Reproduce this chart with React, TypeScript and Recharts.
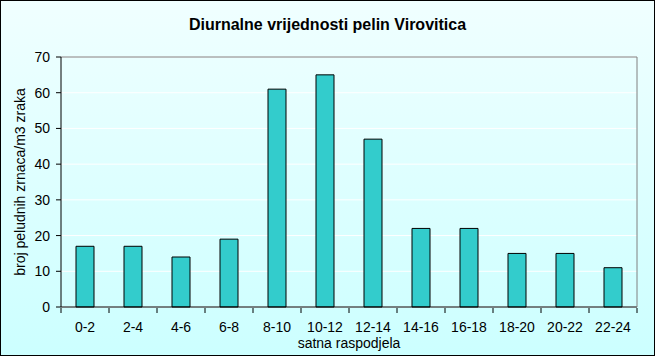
import {
  BarChart,
  Bar,
  XAxis,
  YAxis,
  CartesianGrid,
  ReferenceLine,
  Label,
} from 'recharts'

const categories = ['0-2', '2-4', '4-6', '6-8', '8-10', '10-12', '12-14', '14-16', '16-18', '18-20', '20-22', '22-24']
const pollen = [17, 17, 14, 19, 61, 65, 47, 22, 22, 15, 15, 11]
const yTicks = [0, 10, 20, 30, 40, 50, 60, 70]

const data = categories.map((c, i) => ({ interval: c, value: pollen[i] }))

const FONT = '"Liberation Sans", Arial, sans-serif'

// category labels plus tick marks on the band edges (like Excel)
const EdgeTick = (props: any) => {
  const { x, y, payload, index, visibleTicksCount } = props
  const half = payload.offset || 0
  const axisY = y - 7
  return (
    <g>
      <line x1={x - half} y1={axisY} x2={x - half} y2={axisY + 5} stroke="#000" />
      {index === visibleTicksCount - 1 && (
        <line x1={x + half} y1={axisY} x2={x + half} y2={axisY + 5} stroke="#000" />
      )}
      <text x={x} y={y + 17} textAnchor="middle" fontFamily={FONT} fontSize={14} fill="#000">
        {payload.value}
      </text>
    </g>
  )
}

export default function App() {
  return (
    <div
      style={{
        position: 'absolute',
        left: 0,
        top: 0,
        width: 655,
        height: 356,
        boxSizing: 'border-box',
        border: '1px solid #000',
        background: 'linear-gradient(#F0FFFF, #CCFFFF)',
        fontFamily: FONT,
      }}
    >
      <div
        style={{
          position: 'absolute',
          left: 0,
          top: 15,
          width: '100%',
          textAlign: 'center',
          fontSize: 16,
          fontWeight: 'bold',
          color: '#000',
        }}
      >
        Diurnalne vrijednosti pelin Virovitica
      </div>
      <BarChart
        width={656}
        height={357}
        data={data}
        margin={{ top: 57, right: 0, left: 0, bottom: 0 }}
        style={{ position: 'absolute', left: -1, top: -1 }}
      >
        <CartesianGrid horizontal vertical={false} stroke="#FFFFFF" />
        <XAxis
          dataKey="interval"
          height={50}
          axisLine={{ stroke: '#000' }}
          tickLine={false}
          tick={<EdgeTick />}
          interval={0}
        >
          <Label
            value="satna raspodjela"
            position="insideBottom"
            offset={9}
            style={{ fontFamily: FONT, fontSize: 14, fill: '#000' }}
          />
        </XAxis>
        <YAxis
          domain={[0, 70]}
          ticks={yTicks}
          width={61}
          axisLine={{ stroke: '#000' }}
          tickLine={{ stroke: '#000' }}
          tickSize={5}
          tickMargin={6}
          tick={{ fontFamily: FONT, fontSize: 14, fill: '#000' }}
          interval={0}
        >
          <Label
            value="broj peludnih zrnaca/m3 zraka"
            angle={-90}
            position="center"
            dx={-10}
            style={{ fontFamily: FONT, fontSize: 14, fill: '#000' }}
          />
        </YAxis>
        <YAxis
          yAxisId="right"
          orientation="right"
          width={19}
          tick={false}
          tickLine={false}
          axisLine={{ stroke: '#808080' }}
        />
        <ReferenceLine y={70} stroke="#808080" />
        <Bar
          dataKey="value"
          fill="#33CCCC"
          stroke="#000"
          strokeWidth={1}
          barSize={18}
          isAnimationActive={false}
        />
      </BarChart>
    </div>
  )
}
